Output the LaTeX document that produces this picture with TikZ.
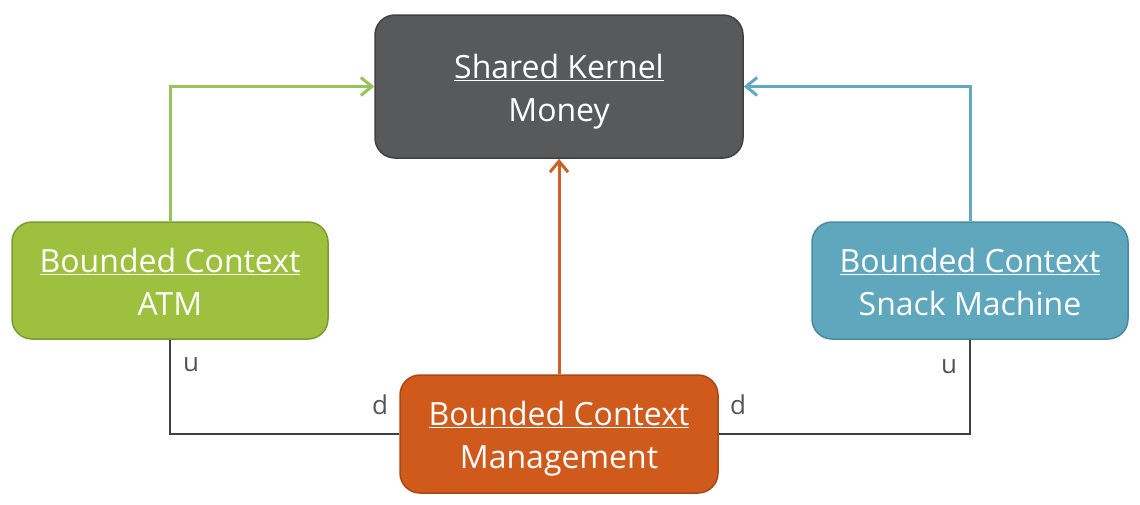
\documentclass[tikz,border=0pt]{standalone}
\usepackage{fontspec}
\setmainfont{Open Sans}
\usetikzlibrary{arrows.meta}
\definecolor{kgray}{RGB}{88,89,91}
\definecolor{kgrayb}{RGB}{64,64,66}
\definecolor{cgreen}{RGB}{157,193,63}
\definecolor{cgreenb}{RGB}{122,155,46}
\definecolor{lgreen}{RGB}{150,196,90}
\definecolor{cblue}{RGB}{95,167,188}
\definecolor{cblueb}{RGB}{72,138,158}
\definecolor{lblue}{RGB}{100,170,190}
\definecolor{corange}{RGB}{208,90,28}
\definecolor{corangeb}{RGB}{168,72,22}
\definecolor{lorange}{RGB}{205,95,40}
\definecolor{cline}{RGB}{64,64,64}
\definecolor{ctext}{RGB}{85,85,85}
\newcommand{\twoline}[2]{\rule{0pt}{34pt}\underline{#1}\\#2\vphantom{g}}
\tikzset{
  ctxbox/.style={rectangle, rounded corners=20pt, line width=1.5pt, text=white,
    align=center, inner sep=0pt,
    font=\fontsize{32}{43}\selectfont},
  conn/.style={line width=3pt, -{Straight Barb[length=11pt,width=18pt,line width=3pt]}},
  rel/.style={line width=2pt, draw=cline},
  lbl/.style={text=ctext, font=\fontsize{26}{28}\selectfont, inner sep=0pt}
}
\begin{document}
\begin{tikzpicture}[x=1pt,y=-1pt]
\useasboundingbox (0,0) rectangle (1140,504);
\node[ctxbox, fill=kgray, draw=kgrayb, minimum width=368pt, minimum height=143pt] (kernel) at (559,86.5) {\twoline{Shared Kernel}{Money}};
\node[ctxbox, fill=cgreen, draw=cgreenb, minimum width=316pt, minimum height=117pt] (atm) at (170,280.5) {\twoline{Bounded Context}{ATM}};
\node[ctxbox, fill=cblue, draw=cblueb, minimum width=316pt, minimum height=117pt] (snack) at (970,280.5) {\twoline{Bounded Context}{Snack Machine}};
\node[ctxbox, fill=corange, draw=corangeb, minimum width=318pt, minimum height=118pt] (mgmt) at (559,434) {\twoline{Bounded Context}{Management}};
\draw[conn, draw=lgreen] (atm.north) |- (kernel.west);
\draw[conn, draw=lblue] (snack.north) |- (kernel.east);
\draw[conn, draw=lorange] (mgmt.north) -- (kernel.south);
\draw[rel] (atm.south) |- (mgmt.west);
\draw[rel] (snack.south) |- (mgmt.east);
\node[lbl] (u1) at (191,365) {u};
\node[lbl] (d1) at (380,405) {d};
\node[lbl] (d2) at (738,405) {d};
\node[lbl] (u2) at (949,367) {u};
\end{tikzpicture}
\end{document}
